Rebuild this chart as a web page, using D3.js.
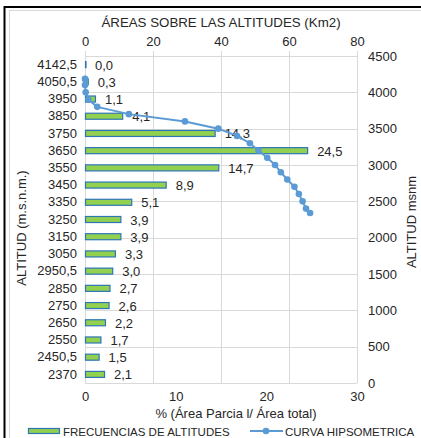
<!DOCTYPE html>
<html><head><meta charset="utf-8">
<script src="https://cdn.jsdelivr.net/npm/d3@7"></script>
<style>
html,body{margin:0;padding:0;background:#fff;}
svg{display:block;font-family:"Liberation Sans",Arial,sans-serif;}
</style></head>
<body>
<svg id="c" width="421" height="438"></svg>
<script>
// ---------- DATA ----------
const categories = ["4142,5","4050,5","3950","3850","3750","3650","3550","3450","3350","3250","3150","3050","2950,5","2850","2750","2650","2550","2450,5","2370"];
const frequencies = [0.0,0.3,1.1,4.1,14.3,24.5,14.7,8.9,5.1,3.9,3.9,3.3,3.0,2.7,2.6,2.2,1.7,1.5,2.1];
const curveAltitudes = [4185,4100,4000,3900,3800,3700,3600,3500,3400,3300,3200,3100,3000,2900,2800,2700,2600,2500,2400,2340];
const curveAreas = [0,0,0.2,1.0,3.6,12.9,29.4,39.2,44.7,48.5,51.0,53.6,55.9,57.6,59.5,61.6,62.9,64.0,65.0,66.2];
const bottomTicks = [0,10,20,30];
const topTicks = [0,20,40,60,80];
const rightTicks = [0,500,1000,1500,2000,2500,3000,3500,4000,4500];

// ---------- LAYOUT ----------
const L = 85, R = 357, T = 56, B = 383;
const svg = d3.select("#c");
const fmt = d3.formatLocale({decimal:",",thousands:".",grouping:[3],currency:["",""]}).format(".1f");

// frame
svg.append("rect").attr("x",9.5).attr("y",10.5).attr("width",440).attr("height",440)
  .attr("fill","none").attr("stroke","#d9d9d9");
svg.append("line").attr("x1",4).attr("x2",421).attr("y1",7).attr("y2",7).attr("stroke","#000").attr("stroke-width",2);
svg.append("line").attr("x1",4.5).attr("x2",4.5).attr("y1",6).attr("y2",438).attr("stroke","#000").attr("stroke-width",2);

// scales
const xBottom = d3.scaleLinear().domain([0,30]).range([L,R]);
const xTop = d3.scaleLinear().domain([0,80]).range([L,R]);
const yRight = d3.scaleLinear().domain([0,4500]).range([B,T]);
const yBand = d3.scaleBand().domain(categories).range([T,B]).paddingInner(0.65).paddingOuter(0.325);

// gridlines
const grid = svg.append("g");
grid.selectAll(".h").data(rightTicks).join("line")
  .attr("x1",L).attr("x2",R).attr("y1",d=>Math.round(yRight(d))+0.5).attr("y2",d=>Math.round(yRight(d))+0.5)
  .attr("stroke","#d9d9d9");
grid.selectAll(".v").data(topTicks).join("line")
  .attr("x1",d=>Math.round(xTop(d))+0.5).attr("x2",d=>Math.round(xTop(d))+0.5)
  .attr("y1",T-5).attr("y2",B).attr("stroke","#d9d9d9");

// title
svg.append("text").attr("x",221).attr("y",27).attr("text-anchor","middle")
  .attr("font-size",13.3).attr("fill","#262626").text("ÁREAS SOBRE LAS ALTITUDES (Km2)");

const tickFont = sel => sel.selectAll("text").attr("font-size",13).attr("fill","#262626").attr("font-family","Liberation Sans, Arial, sans-serif");

// top axis
const topAx = svg.append("g").attr("transform",`translate(0,${T-5})`)
  .call(d3.axisTop(xTop).tickValues(topTicks).tickSize(0).tickPadding(5));
topAx.select(".domain").remove();
tickFont(topAx);

// bottom axis
const botAx = svg.append("g").attr("transform",`translate(0,${B})`)
  .call(d3.axisBottom(xBottom).tickValues(bottomTicks).tickSize(0).tickPadding(9));
botAx.select(".domain").remove();
tickFont(botAx);

// right axis
const rAx = svg.append("g").attr("transform",`translate(${R},0)`)
  .call(d3.axisRight(yRight).tickValues(rightTicks).tickFormat(d3.format("d")).tickSize(0).tickPadding(11));
rAx.select(".domain").remove();
tickFont(rAx);

// left axis
const lAx = svg.append("g").attr("transform",`translate(${L},0)`)
  .call(d3.axisLeft(yBand).tickSize(0).tickPadding(8));
lAx.select(".domain").remove();
tickFont(lAx);

// axis titles
svg.append("text").attr("transform","translate(26,228) rotate(-90)").attr("text-anchor","middle")
  .attr("font-size",13).attr("fill","#262626").text("ALTITUD (m.s.n.m.)");
svg.append("text").attr("transform","translate(416,222) rotate(-90)").attr("text-anchor","middle")
  .attr("font-size",13).attr("fill","#262626").text("ALTITUD msnm");
svg.append("text").attr("x",236).attr("y",418).attr("text-anchor","middle")
  .attr("font-size",13).attr("fill","#262626").text("% (Área Parcia l/ Área total)");

// bars
svg.append("g").selectAll("rect").data(frequencies).join("rect")
  .attr("x",xBottom(0)+0.5)
  .attr("y",(d,i)=>yBand(categories[i]))
  .attr("width",d=>Math.max(0.5,xBottom(d)-xBottom(0)))
  .attr("height",yBand.bandwidth())
  .attr("fill","#92D050").attr("stroke","#2E75B6").attr("stroke-width",1.2);

// bar labels
svg.append("g").selectAll("text").data(frequencies).join("text")
  .attr("x",d=>xBottom(d)+10)
  .attr("y",(d,i)=>yBand(categories[i])+yBand.bandwidth()/2+5)
  .attr("font-size",13).attr("fill","#262626").text(d=>fmt(d));

// curve
const pts = curveAreas.map((a,i)=>[a,curveAltitudes[i]]);
svg.append("path").datum(pts)
  .attr("d",d3.line().x(d=>xTop(d[0])).y(d=>yRight(d[1])))
  .attr("fill","none").attr("stroke","#5B9BD5").attr("stroke-width",2);
svg.append("g").selectAll("circle").data(pts).join("circle")
  .attr("cx",d=>xTop(d[0])).attr("cy",d=>yRight(d[1])).attr("r",3.3).attr("fill","#5B9BD5");

// legend
const lg = svg.append("g");
lg.append("rect").attr("x",28.5).attr("y",428.5).attr("width",31).attr("height",5)
  .attr("fill","#92D050").attr("stroke","#2E75B6").attr("stroke-width",1.2);
lg.append("text").attr("x",63).attr("y",435.5).attr("font-size",11.5).attr("fill","#262626").text("FRECUENCIAS DE ALTITUDES");
lg.append("line").attr("x1",250).attr("x2",283).attr("y1",431).attr("y2",431).attr("stroke","#5B9BD5").attr("stroke-width",2);
lg.append("circle").attr("cx",266).attr("cy",431).attr("r",3.3).attr("fill","#5B9BD5");
lg.append("text").attr("x",285).attr("y",435.5).attr("font-size",11.5).attr("fill","#262626").text("CURVA HIPSOMETRICA");
</script>
</body></html>
